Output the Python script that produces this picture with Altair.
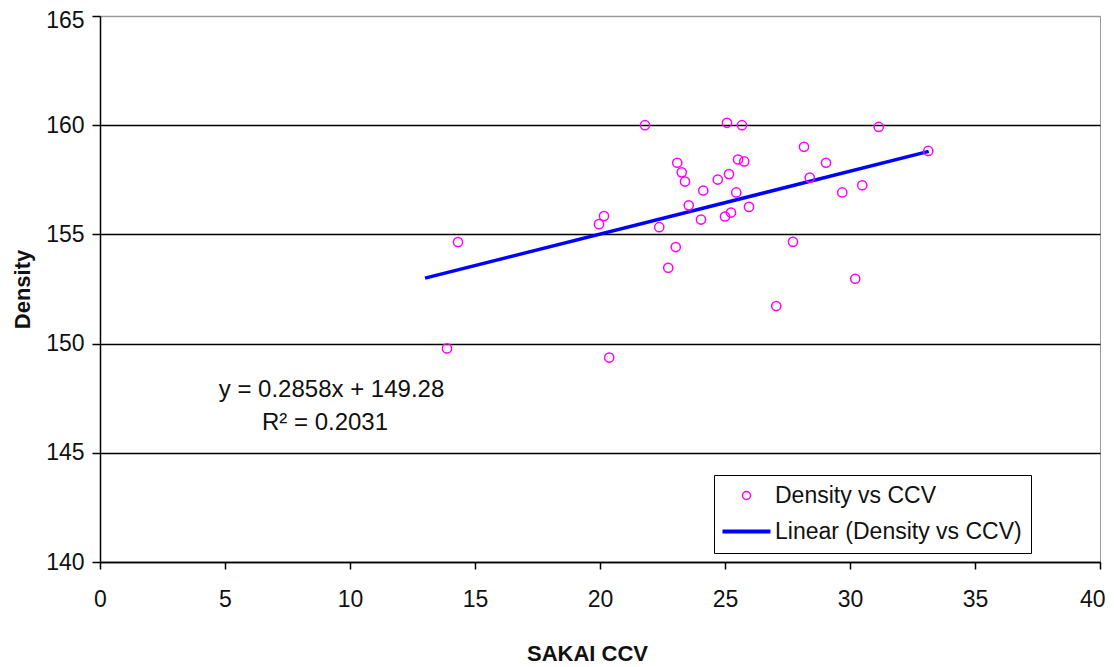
import altair as alt
import pandas as pd

# ---- data ----
ccv = [13.88, 14.32, 19.96, 20.16, 20.37, 21.80, 22.37, 22.73, 23.03, 23.09,
       23.27, 23.40, 23.55, 24.04, 24.13, 24.71, 25.00, 25.08, 25.16, 25.24,
       25.45, 25.52, 25.68, 25.77, 25.96, 27.05, 27.72, 28.16, 28.39, 29.04,
       29.69, 30.21, 30.49, 31.15, 33.13]
density = [149.78, 154.65, 155.47, 155.84, 149.36, 160.00, 155.33, 153.47, 154.42, 158.28,
           157.84, 157.42, 156.33, 155.68, 157.01, 157.51, 155.82, 160.11, 157.76, 156.00,
           156.92, 158.43, 160.00, 158.34, 156.26, 151.72, 154.66, 159.01, 157.60, 158.28,
           156.92, 152.97, 157.25, 159.92, 158.82]

trend_x = [13.0, 33.15]
trend_y = [153.0, 158.8]

series_names = ["Density vs CCV", "Linear (Density vs CCV)"]

eq_text = ["y = 0.2858x + 149.28", "R\u00b2 = 0.2031"]
eq_x = [9.26, 9.0]
eq_y = [147.87, 146.36]

x_ticks = [0, 5, 10, 15, 20, 25, 30, 35, 40]
y_ticks = [140, 145, 150, 155, 160, 165]

FONT = "Liberation Sans"

pts = pd.DataFrame({"ccv": ccv, "density": density, "series": series_names[0]})
trend = pd.DataFrame({"ccv": trend_x, "density": trend_y})
ann = pd.DataFrame({"ccv": eq_x, "density": eq_y, "text": eq_text})

x_enc = alt.X(
    "ccv:Q",
    scale=alt.Scale(domain=[0, 40], nice=False, zero=False),
    axis=alt.Axis(
        values=x_ticks, title="SAKAI CCV", grid=False, tickSize=7, labelPadding=19,
        labelFontSize=23, labelFont=FONT, labelColor="#111111",
        labelAlign={"condition": {"test": "datum.value == 40", "value": "right"}, "value": "center"},
        labelOffset={"condition": {"test": "datum.value == 40", "value": 5}, "value": 0},
        titleFont=FONT, titleFontSize=22, titleFontWeight="bold", titleColor="#111111",
        titlePadding=32, titleX=487, titleAlign="center",
        domainColor="black", domainWidth=1.5, tickColor="black", tickWidth=1.5,
        labelFlush=False,
    ),
)
y_enc = alt.Y(
    "density:Q",
    scale=alt.Scale(domain=[140, 165], nice=False, zero=False),
    axis=alt.Axis(
        values=y_ticks, title="Density", grid=True,
        gridColor={"condition": {"test": "datum.value == 165", "value": "#9a9a9a"}, "value": "#000000"},
        gridWidth=1.5, tickSize=8, labelPadding=8,
        labelOffset={"condition": {"test": "datum.value == 165", "value": 4}, "value": 0},
        labelFontSize=23, labelFont=FONT, labelColor="#111111",
        titleFont=FONT, titleFontSize=22, titleFontWeight="bold", titleColor="#111111",
        titlePadding=11, domainColor="black", domainWidth=1.5, tickColor="black", tickWidth=1.5,
    ),
)

legend_props = dict(
    title=None, orient="none", legendX=614, legendY=459, direction="vertical",
    fillColor="white", strokeColor="black", padding=9, rowPadding=12,
    labelFont=FONT, labelFontSize=23, labelColor="#111111", labelOffset=17, labelLimit=500,
    symbolStrokeWidth=1.5, symbolSize=64, symbolOffset=12,
)

points = alt.Chart(pts).mark_point(
    filled=False, size=85, strokeWidth=1.5, opacity=1
).encode(
    x=x_enc,
    y=y_enc,
    color=alt.Color(
        "series:N",
        scale=alt.Scale(domain=series_names, range=["#ff00ff", "#0000ff"]),
        legend=alt.Legend(**legend_props),
    ),
    shape=alt.Shape(
        "series:N",
        scale=alt.Scale(
            domain=series_names,
            range=["circle", "M-6,-0.3L6,-0.3M-6,0L6,0M-6,0.3L6,0.3"],
        ),
        legend=alt.Legend(**legend_props),
    ),
)

line = alt.Chart(trend).mark_line(color="#0000ff", strokeWidth=3.5).encode(
    x="ccv:Q", y="density:Q"
)

text = alt.Chart(ann).mark_text(
    font=FONT, fontSize=24, color="#111111", align="center", baseline="middle"
).encode(x="ccv:Q", y="density:Q", text="text:N")

chart = alt.layer(line, points, text).properties(
    width=1000, height=546,
    padding={"left": 92, "top": 8, "right": 6, "bottom": 105},
    autosize=alt.AutoSizeParams(type="none"),
    background="white",
).configure_view(stroke="#9a9a9a", strokeWidth=1)

chart.save("out.html", embed_options={"renderer": "svg", "actions": False})
